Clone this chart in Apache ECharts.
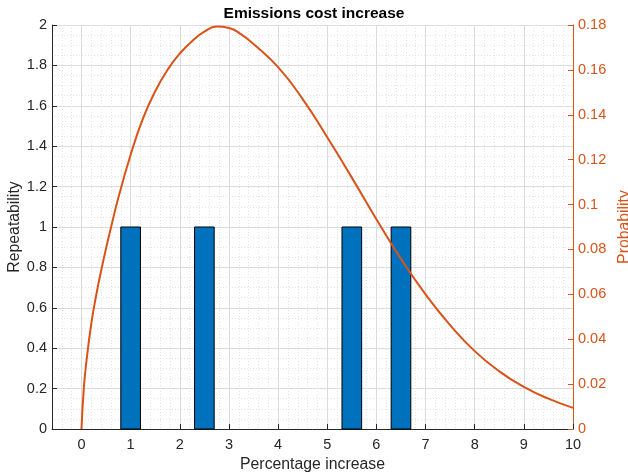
<!DOCTYPE html>
<html>
<head>
<meta charset="utf-8">
<script src="https://cdn.jsdelivr.net/npm/echarts@6/dist/echarts.min.js"></script>
<style>
  html, body { margin: 0; padding: 0; background: #fff; }
  #chart { width: 628px; height: 476px; }
</style>
</head>
<body>
<div id="chart"></div>
<script>
// Histogram of observed cost increases (bin centres, counts, bin width in %)
const binCenters = [1, 2.5, 5.5, 6.5];
const binCounts = [1, 1, 1, 1];
const binWidth = 0.4;

// Fitted probability density, sampled points (percentage, probability)
const pdfX = [0, 0.05, 0.1, 0.2, 0.3, 0.4, 0.5, 0.6, 0.75, 1.0, 1.25, 1.5, 1.75, 2.0, 2.25, 2.5, 2.75,
              3.0, 3.25, 3.5, 4.0, 4.5, 5.0, 5.5, 6.0, 6.5, 7.0, 7.5, 8.0, 8.5, 9.0, 9.5, 10.0];
const pdfY = [0, 0.019, 0.030, 0.047, 0.0597, 0.0705, 0.0805, 0.0898, 0.1030, 0.1222, 0.1383, 0.1505, 0.1600, 0.1673, 0.1728, 0.1770, 0.1793,
              0.1787, 0.1758, 0.1715, 0.1612, 0.1470, 0.1300, 0.1120, 0.0935, 0.0758, 0.0600, 0.0463, 0.0347, 0.0257, 0.0188, 0.0135, 0.0094];

// Axis labels
const xTickLabels = ['0', '1', '2', '3', '4', '5', '6', '7', '8', '9', '10'];

const FONT = '"Liberation Sans", Arial, Helvetica, sans-serif';
const AXIS_DARK = '#262626';
const ORANGE = '#D95319';
const BLUE = '#0072BD';

const chart = echarts.init(document.getElementById('chart'));

const barData = binCenters.map((c, i) => [c, binCounts[i]]);
const pdfData = pdfX.map((x, i) => [x, pdfY[i]]);

chart.setOption({
  animation: false,
  backgroundColor: '#ffffff',
  textStyle: { fontFamily: FONT },
  title: {
    text: 'Emissions cost increase',
    left: 'center',
    top: 1,
    textStyle: { fontFamily: FONT, fontSize: 15.5, fontWeight: 'bold', color: '#000' }
  },
  grid: { left: 52, right: 55, top: 25, bottom: 47, outerBoundsMode: 'none', containLabel: false },
  xAxis: {
    type: 'value',
    min: -0.6,
    max: 10,
    minInterval: 1,
    maxInterval: 1,
    name: 'Percentage increase',
    nameLocation: 'middle',
    nameGap: 28,
    nameMoveOverlap: false,
    nameTextStyle: { fontFamily: FONT, fontSize: 15.8, color: AXIS_DARK },
    axisLine: { onZero: false, lineStyle: { color: AXIS_DARK, width: 1 } },
    axisTick: { inside: true, length: 5, lineStyle: { color: AXIS_DARK } },
    axisLabel: {
      showMinLabel: false,
      fontFamily: FONT, fontSize: 14.5, color: AXIS_DARK, margin: 8,
      formatter: v => {
        const i = Math.round(v);
        return (Math.abs(v - i) < 1e-6 && i >= 0 && i < xTickLabels.length) ? xTickLabels[i] : '';
      }
    },
    splitLine: { show: true, lineStyle: { color: '#dcdcdc', width: 1 } },
    minorTick: { show: false, splitNumber: 5 },
    minorSplitLine: { show: true, lineStyle: { color: '#e4e4e4', width: 1, type: [1, 2] } }
  },
  yAxis: [
    {
      type: 'value',
      min: 0,
      max: 2,
      interval: 0.2,
      name: 'Repeatability',
      nameLocation: 'middle',
      nameGap: 29,
      nameMoveOverlap: false,
      nameTextStyle: { fontFamily: FONT, fontSize: 15.8, color: AXIS_DARK },
      axisLine: { show: true, onZero: false, lineStyle: { color: AXIS_DARK, width: 1 } },
      axisTick: { show: true, inside: true, length: 5, lineStyle: { color: AXIS_DARK } },
      axisLabel: { fontFamily: FONT, fontSize: 14.5, color: AXIS_DARK, margin: 5 },
      splitLine: { show: true, lineStyle: { color: '#dcdcdc', width: 1 } },
      minorTick: { show: false, splitNumber: 4 },
      minorSplitLine: { show: true, lineStyle: { color: '#e4e4e4', width: 1, type: [1, 2] } }
    },
    {
      type: 'value',
      min: 0,
      max: 0.18,
      interval: 0.02,
      position: 'right',
      name: 'Probability',
      nameLocation: 'middle',
      nameGap: 44,
      nameRotate: 90,
      nameMoveOverlap: false,
      nameTextStyle: { fontFamily: FONT, fontSize: 15.8, color: ORANGE },
      axisLine: { show: true, onZero: false, lineStyle: { color: ORANGE, width: 1 } },
      axisTick: { show: true, inside: true, length: 5, lineStyle: { color: ORANGE } },
      axisLabel: { fontFamily: FONT, fontSize: 14.5, color: ORANGE, margin: 5 },
      splitLine: { show: false }
    }
  ],
  series: [
    {
      name: 'Repeatability',
      type: 'custom',
      xAxisIndex: 0,
      yAxisIndex: 0,
      data: barData,
      encode: { x: 0, y: 1 },
      renderItem: (params, api) => {
        const c = api.value(0);
        const h = api.value(1);
        const p0 = api.coord([c - binWidth / 2, h]);
        const p1 = api.coord([c + binWidth / 2, 0]);
        return {
          type: 'rect',
          shape: { x: p0[0], y: p0[1], width: p1[0] - p0[0], height: p1[1] - p0[1] },
          style: { fill: BLUE, stroke: '#000', lineWidth: 1 }
        };
      },
      z: 2
    },
    {
      name: 'Probability',
      type: 'line',
      xAxisIndex: 0,
      yAxisIndex: 1,
      data: pdfData,
      smooth: 0.5,
      showSymbol: false,
      lineStyle: { color: ORANGE, width: 2 },
      z: 3
    }
  ]
});
</script>
</body>
</html>
